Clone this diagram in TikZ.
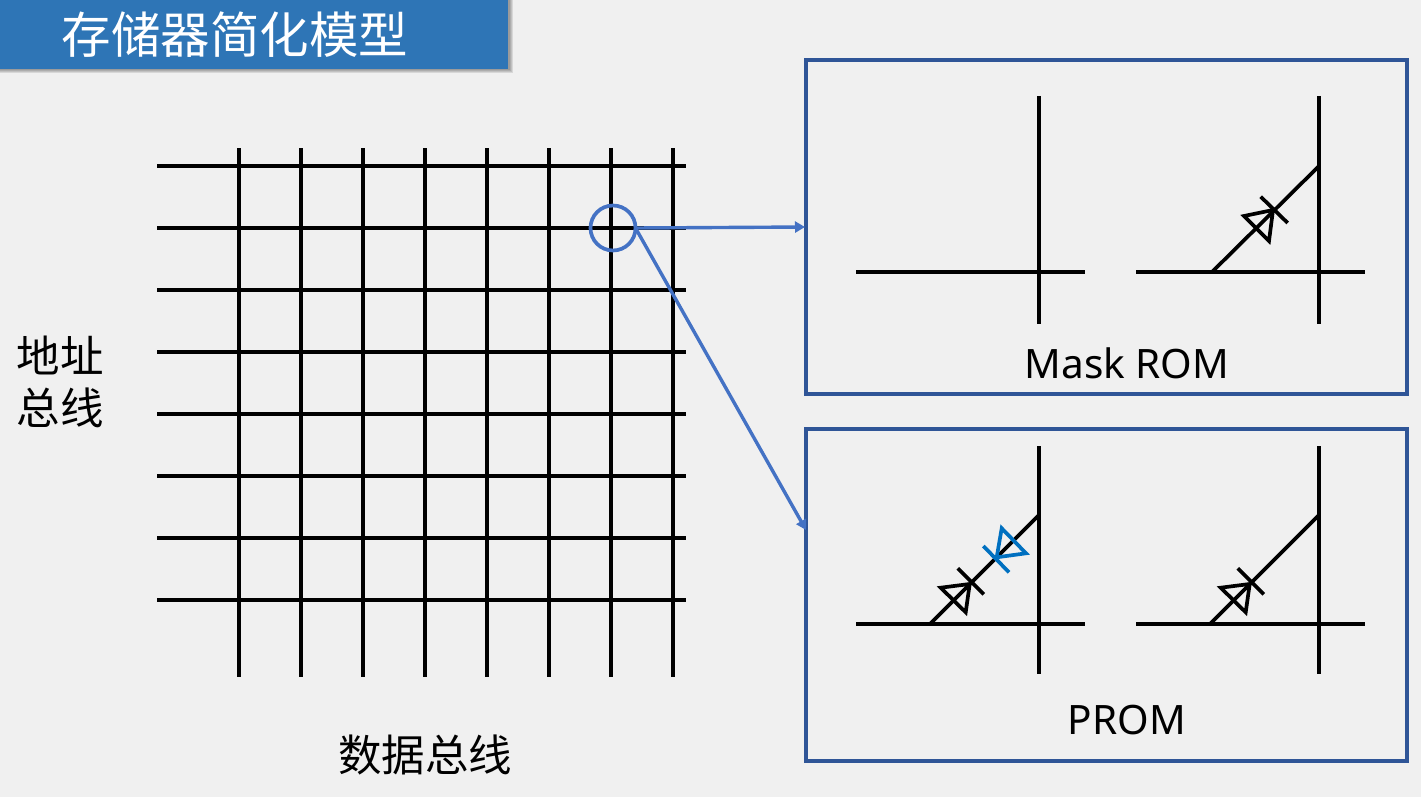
\documentclass[tikz,border=0pt]{standalone}
\usepackage{fontspec}
\setmainfont{Noto Sans}
\newfontfamily\cjk{Noto Sans CJK SC}
\usetikzlibrary{arrows.meta}
\definecolor{bgc}{HTML}{F0F0F0}
\definecolor{titlec}{HTML}{2E75B6}
\definecolor{boxc}{HTML}{2F5597}
\definecolor{linkc}{HTML}{4472C4}
\definecolor{dioc}{HTML}{0070C0}
\tikzset{
  wire/.style={line width=3.7pt,black},
  gridline/.style={line width=4pt,black},
  link/.style={line width=3.4pt,linkc,-{Triangle[length=10pt,width=11pt]}},
  panel/.style={draw=boxc,line width=3.7pt,fill=none,inner sep=0pt,outer sep=0pt},
  lab/.style={inner sep=0pt,font=\fontsize{43.5}{50}\selectfont\cjk,text=black},
  latinlab/.style={inner sep=0pt,font=\fontsize{40.5}{50}\selectfont,text=black},
}
% #1 colour, #2 bar start, #3 bar end, #4 apex, #5 and #6 the other corners
\newcommand{\diodeSym}[6]{%
  \draw[line width=3.7pt,#1] (#2) -- (#3);
  \draw[line width=3.7pt,#1,miter limit=10,line join=miter] (#4) -- (#5) -- (#6) -- cycle;
}
\begin{document}
\begin{tikzpicture}[x=1pt,y=-1pt]
\useasboundingbox (0,0) rectangle (1421,797);
\fill[bgc] (0,0) rectangle (1421,797);
% title shadow, softened by layers
\foreach \d in {1.5,2.5,3.5,4.5}
  \fill[black,opacity=.1] (-6,0) rectangle (508+\d,69+\d);
\node[fill=titlec,minimum width=508pt,minimum height=69pt,inner sep=0pt,outer sep=0pt] (titlebar) at (254,34.5) {};
\node[inner sep=0pt,text=white,font=\fontsize{49.5}{55}\selectfont\cjk] (title) at (235,35) {存储器简化模型};
% grid
\foreach \y in {166,228,290,352,414,476,538,600}
  \draw[gridline] (157,\y) -- (686,\y);
\foreach \x in {239,301,363,425,487,549,611,673}
  \draw[gridline] (\x,148) -- (\x,677);
% side labels
\node[lab] (addr1) at (60,355) {地址};
\node[lab] (addr2) at (60,408) {总线};
\node[lab] (data) at (425,755) {数据总线};
% panels
\node[panel,minimum width=601pt,minimum height=334pt] (mask) at (1106.6,227) {};
\node[panel,minimum width=601pt,minimum height=332pt] (prom) at (1106.6,595) {};
\node[latinlab] (masklab) at (1127,363) {Mask ROM};
\node[latinlab] (promlab) at (1127,720) {PROM};
% mask rom contents
\draw[wire] (856,272) -- (1085,272);
\draw[wire] (1039,96) -- (1039,324);
\draw[wire] (1136,272) -- (1365,272);
\draw[wire] (1319,96) -- (1319,324);
\draw[wire] (1212,272) -- (1319,166);
\diodeSym{black}{1260.7,196.7}{1287.7,223}{1273,210}{1244,216}{1269,241}
% prom contents
\draw[wire] (856,624) -- (1085,624);
\draw[wire] (1039,446) -- (1039,674);
\draw[wire] (1136,624) -- (1365,624);
\draw[wire] (1319,446) -- (1319,674);
\draw[wire] (930,624) -- (1039,515);
\draw[wire] (1210,624) -- (1319,515);
\diodeSym{black}{957.7,568.3}{983.7,594.3}{969.7,584}{940.7,587.7}{965.7,612.3}
\diodeSym{dioc}{983.3,546}{1009,572.3}{996.7,557.3}{1001.7,528.3}{1026,553.3}
\diodeSym{black}{1237.7,568.3}{1263.7,594.3}{1249.7,584}{1220.7,587.7}{1245.7,612.3}
% zoom circle and arrows
\node[draw=linkc,line width=3.7pt,circle,minimum size=45pt,inner sep=0pt,outer sep=0pt,fill=none] (zoomc) at (613,228) {};
\coordinate (toMask) at (805,227);
\coordinate (toProm) at (806,530);
\draw[link] (zoomc.east) -- (toMask);
\draw[link] (zoomc.east) -- (toProm);
\end{tikzpicture}
\end{document}
